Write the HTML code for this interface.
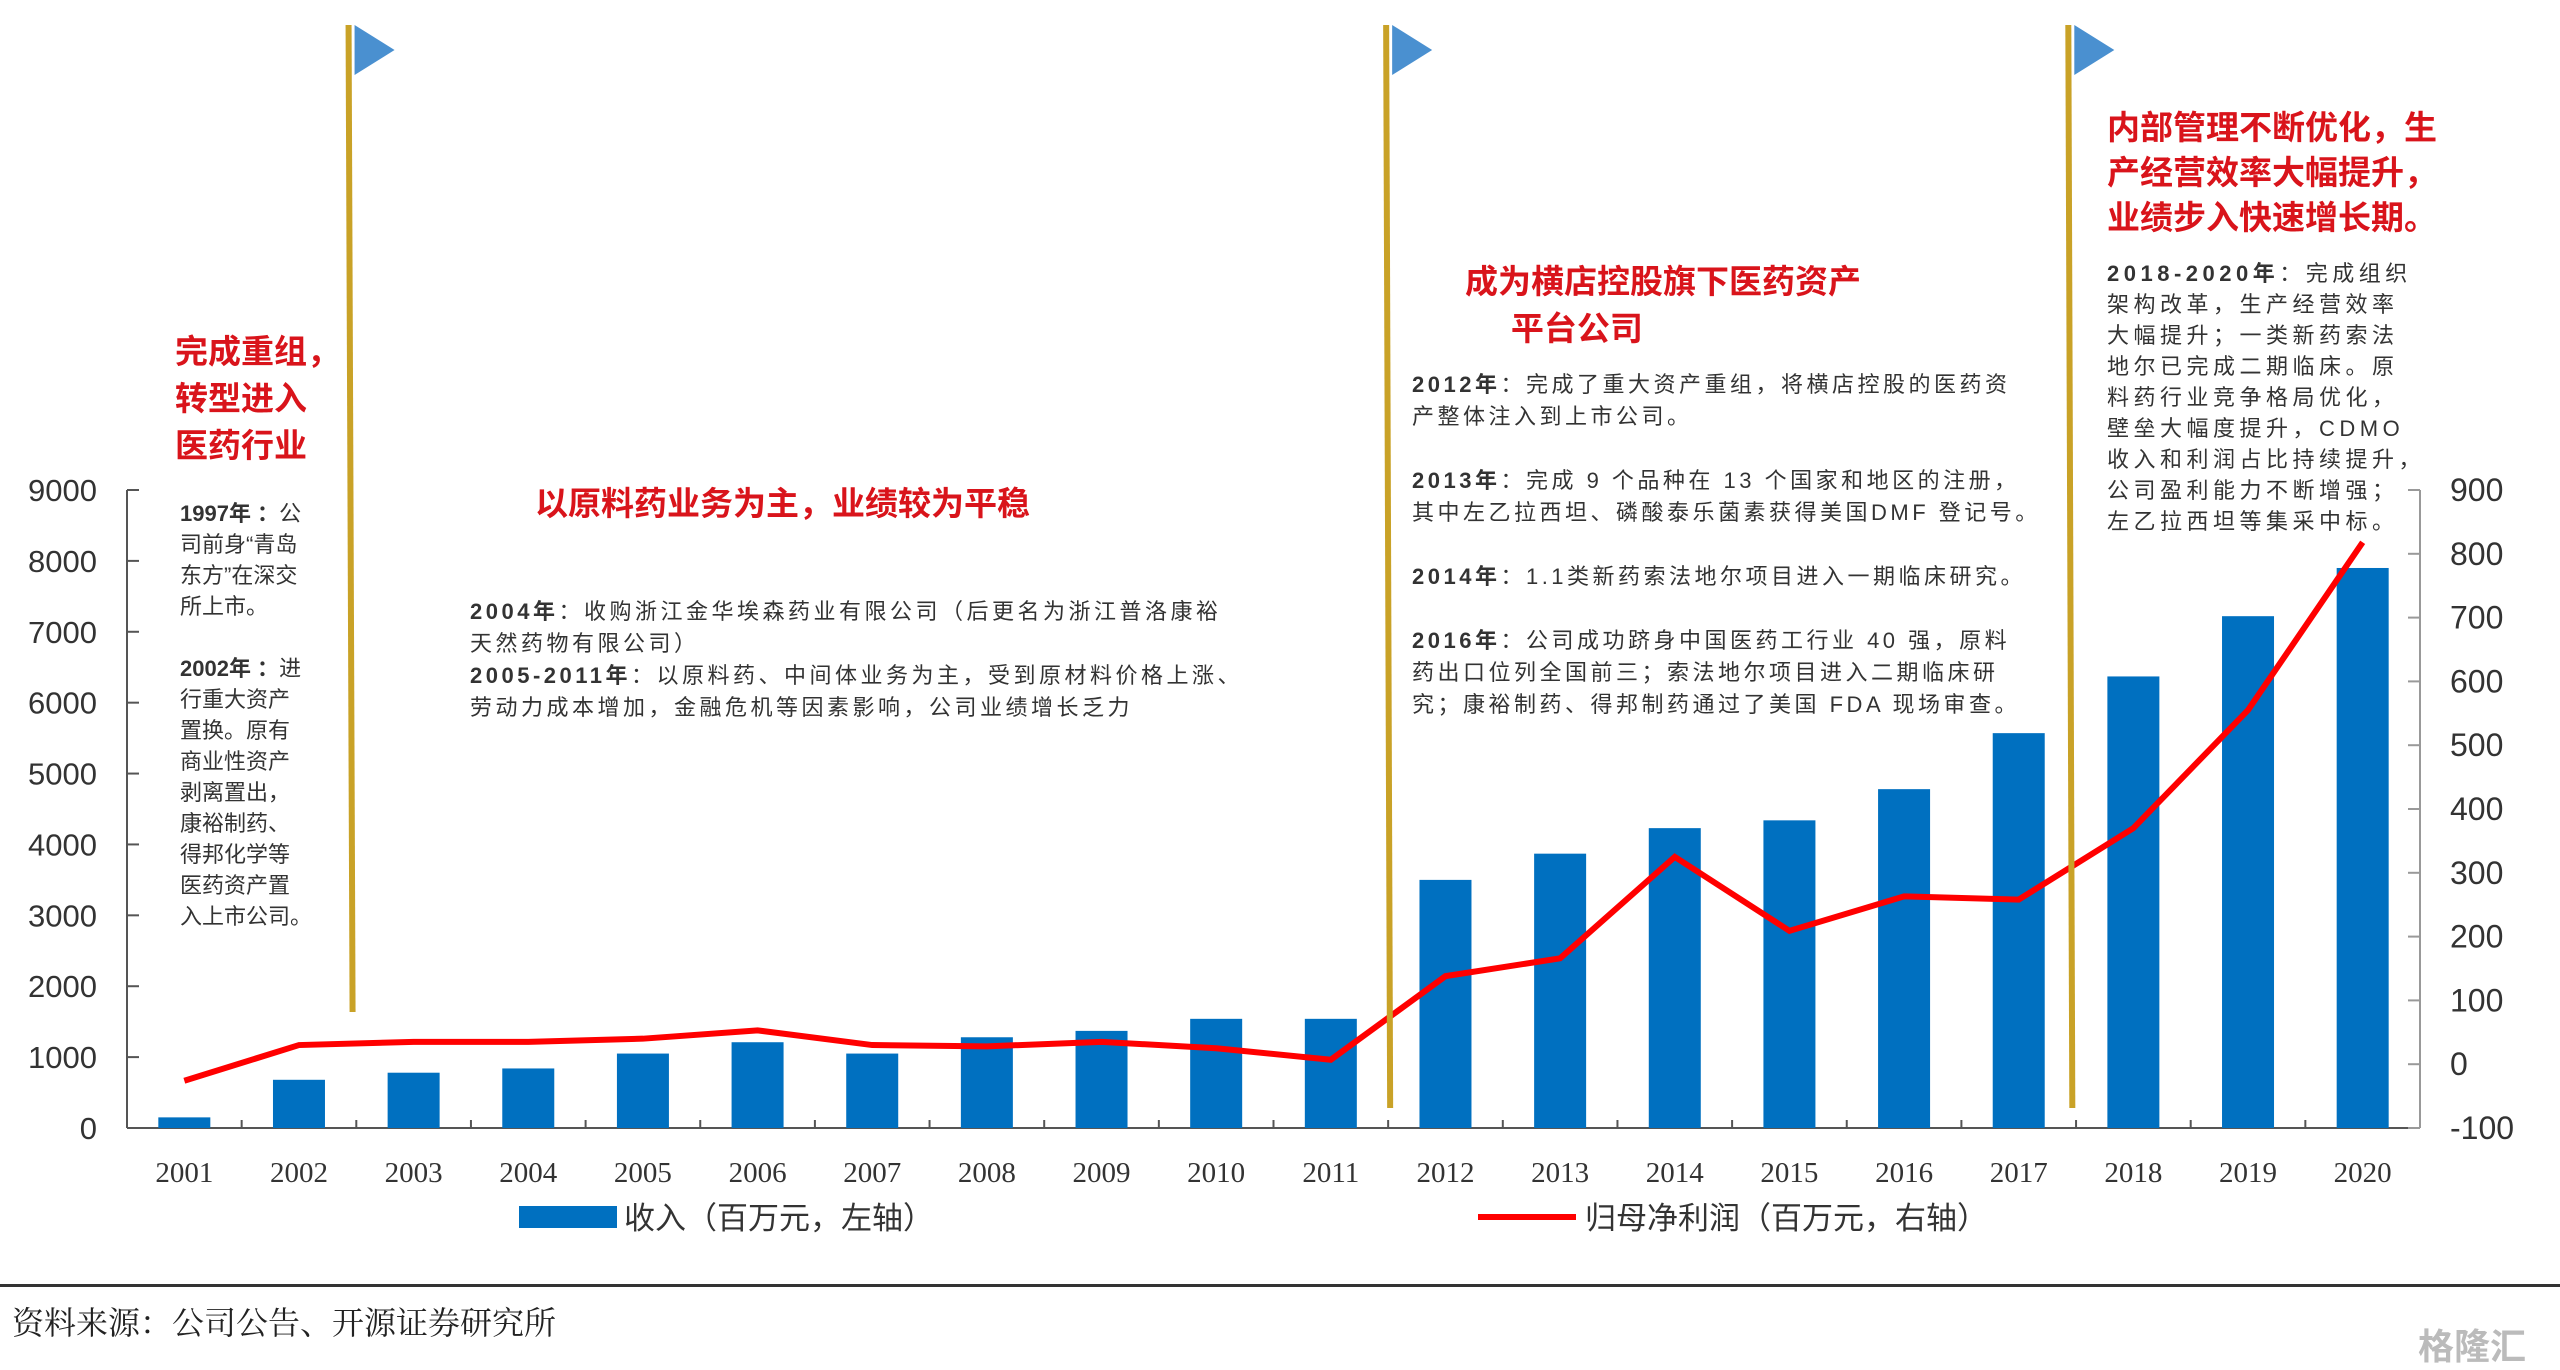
<!DOCTYPE html>
<html><head><meta charset="utf-8">
<style>
body{margin:0;width:2560px;height:1367px;background:#fff;position:relative;overflow:hidden;font-family:"Liberation Sans","Noto Sans CJK SC",sans-serif}
.t{position:absolute;color:#333;font-size:22px;line-height:32px;white-space:nowrap}
.r{position:absolute;color:#d9141b;font-weight:bold;font-size:33px;line-height:47px;white-space:nowrap}
b{color:#333}
</style></head><body>
<svg width="2560" height="1367" style="position:absolute;left:0;top:0" id="svg"></svg>

<div class="r" style="left:175px;top:328px">完成重组，<br>转型进入<br>医药行业</div>
<div class="t" style="left:180px;top:498px;font-size:22px;line-height:31px;letter-spacing:0px"><b>1997年 ：</b>公<br>司前身“青岛<br>东方”在深交<br>所上市。<br><br><b>2002年 ：</b>进<br>行重大资产<br>置换。原有<br>商业性资产<br>剥离置出，<br>康裕制药、<br>得邦化学等<br>医药资产置<br>入上市公司。</div>
<div class="r" style="left:535px;top:480px">以原料药业务为主，业绩较为平稳</div>
<div class="t" style="left:470px;top:596px;letter-spacing:3.5px"><b>2004年</b>：收购浙江金华埃森药业有限公司（后更名为浙江普洛康裕<br>天然药物有限公司）<br><b>2005-2011年</b>：以原料药、中间体业务为主，受到原材料价格上涨、<br>劳动力成本增加，金融危机等因素影响，公司业绩增长乏力</div>
<div class="r" style="left:1465px;top:258px">成为横店控股旗下医药资产<br>&nbsp;&nbsp;&nbsp;&nbsp;&nbsp;平台公司</div>
<div class="t" style="left:1412px;top:369px;letter-spacing:3.5px"><b>2012年</b>：完成了重大资产重组，将横店控股的医药资<br>产整体注入到上市公司。<br><br><b>2013年</b>：完成 9 个品种在 13 个国家和地区的注册，<br>其中左乙拉西坦、磷酸泰乐菌素获得美国DMF 登记号。<br><br><b>2014年</b>：1.1类新药索法地尔项目进入一期临床研究。<br><br><b>2016年</b>：公司成功跻身中国医药工行业 40 强，原料<br>药出口位列全国前三；索法地尔项目进入二期临床研<br>究；康裕制药、得邦制药通过了美国 FDA 现场审查。</div>
<div class="r" style="left:2107px;top:105px;line-height:45px">内部管理不断优化，生<br>产经营效率大幅提升，<br>业绩步入快速增长期。</div>
<div class="t" style="left:2107px;top:258px;line-height:31px;letter-spacing:4.5px"><b>2018-2020年</b>：完成组织<br>架构改革，生产经营效率<br>大幅提升；一类新药索法<br>地尔已完成二期临床。原<br>料药行业竞争格局优化，<br>壁垒大幅度提升，CDMO<br>收入和利润占比持续提升，<br>公司盈利能力不断增强；<br>左乙拉西坦等集采中标。</div>

<div style="position:absolute;left:12px;top:1298px;font-size:32px;color:#222;font-family:'Liberation Serif','Noto Serif CJK SC',serif">资料来源：公司公告、开源证券研究所</div>
<div style="position:absolute;left:0;top:1284px;width:2560px;height:3px;background:#333"></div>
<div style="position:absolute;left:2418px;top:1318px;font-size:36px;color:#bbb;font-weight:bold">格隆汇</div>

<script>
const years=['2001','2002','2003','2004','2005','2006','2007','2008','2009','2010','2011','2012','2013','2014','2015','2016','2017','2018','2019','2020'];
const revenue=[150,680,780,840,1050,1210,1050,1280,1370,1540,1540,3500,3870,4230,4340,4780,5570,6370,7220,7900];
const profit=[-26,30,35,35,40,53,30,28,35,25,7,138,166,325,209,263,258,370,555,818];
const leftTicks=[0,1000,2000,3000,4000,5000,6000,7000,8000,9000];
const rightTicks=[-100,0,100,200,300,400,500,600,700,800,900];
const flagPositions=[1.95,11.0,16.95];
const svg=document.getElementById('svg');const NS='http://www.w3.org/2000/svg';
const X0=127,X1=2420,Y0=1128,Y1=490,bw=(X1-X0)/years.length;
const xc=i=>X0+bw*(i+0.5);
const yl=v=>Y0-(v/9000)*(Y0-Y1);
const yr=v=>Y0-((v+100)/1000)*(Y0-Y1);
function mk(tag,a){const e=document.createElementNS(NS,tag);for(const k in a)e.setAttribute(k,a[k]);svg.appendChild(e);return e;}
let e;
e=mk('line',{x1:X0,y1:Y1,x2:X0,y2:Y0,stroke:'#555','stroke-width':2});


e=mk('line',{x1:X1,y1:Y1,x2:X1,y2:Y0,stroke:'#999','stroke-width':2});


e=mk('line',{x1:X0,y1:Y0,x2:X1,y2:Y0,stroke:'#555','stroke-width':2});


leftTicks.forEach(v=>{mk('line',{x1:X0,y1:yl(v),x2:X0+12,y2:yl(v),stroke:'#555','stroke-width':2});
 e=mk('text',{x:X0-30,y:yl(v)+11,'text-anchor':'end','font-size':31,fill:'#333','font-family':'Liberation Sans'});e.textContent=v;
 
 });
rightTicks.forEach(v=>{mk('line',{x1:X1,y1:yr(v),x2:X1-12,y2:yr(v),stroke:'#999','stroke-width':2});
 e=mk('text',{x:X1+30,y:yr(v)+11,'font-size':32,fill:'#333','font-family':'Liberation Sans'});e.textContent=v;
 
 });
years.forEach((y,i)=>{mk('line',{x1:X0+bw*i,y1:Y0,x2:X0+bw*i,y2:Y0-8,stroke:'#555','stroke-width':2});
 e=mk('rect',{x:xc(i)-26,y:yl(revenue[i]),width:52,height:Y0-yl(revenue[i]),fill:'#0070c0'});
 
 
 e=mk('text',{x:xc(i),y:1182,'text-anchor':'middle','font-size':29,fill:'#333','font-family':'Liberation Serif'});e.textContent=y;
 
 });
e=mk('polyline',{points:profit.map((v,i)=>xc(i)+','+yr(v)).join(' '),fill:'none',stroke:'#f00','stroke-width':6});


const flagBottoms=[1012,1108,1108];
flagPositions.forEach((p,k)=>{const x=X0+bw*p;
 e=mk('line',{x1:x-2,y1:25,x2:x+2,y2:flagBottoms[k],stroke:'#c9a227','stroke-width':6});
 
 
 e=mk('polygon',{points:`${x+4},25 ${x+44},50 ${x+4},75`,fill:'#4a90d0'});
 
 });
e=mk('rect',{x:519,y:1206,width:98,height:22,fill:'#0070c0'});


e=mk('text',{x:624,y:1229,'font-size':31,fill:'#333','font-family':'Liberation Sans, Noto Sans CJK SC'});e.textContent='收入（百万元，左轴）';


e=mk('line',{x1:1478,y1:1217,x2:1576,y2:1217,stroke:'#f00','stroke-width':6});


e=mk('text',{x:1585,y:1229,'font-size':31,fill:'#333','font-family':'Liberation Sans, Noto Sans CJK SC'});e.textContent='归母净利润（百万元，右轴）';


</script>
</body></html>
